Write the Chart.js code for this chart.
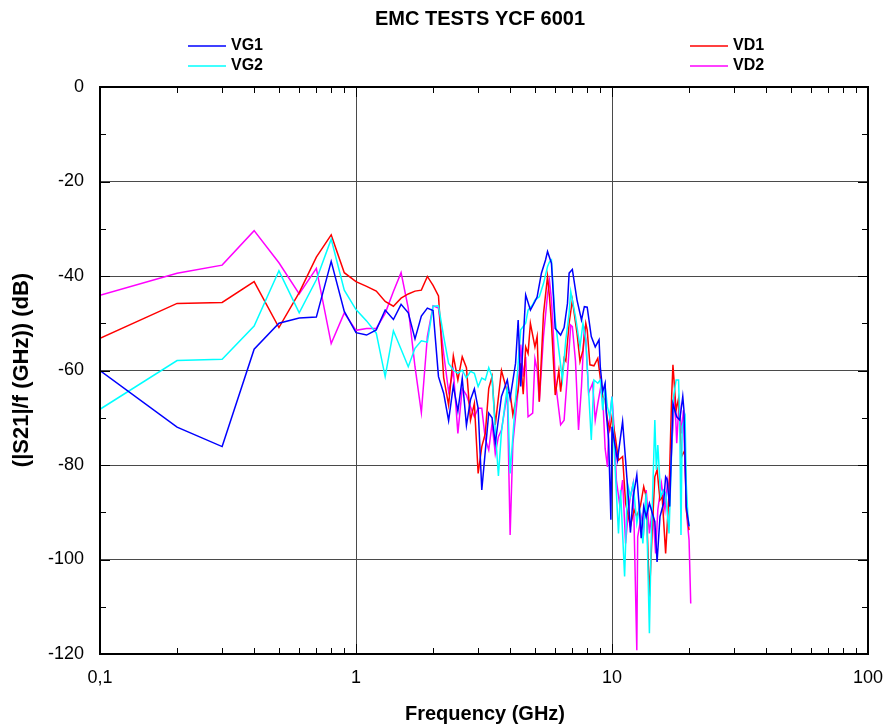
<!DOCTYPE html>
<html>
<head>
<meta charset="utf-8">
<title>EMC TESTS YCF 6001</title>
<script src="https://cdn.jsdelivr.net/npm/chart.js@4.4.1/dist/chart.umd.min.js"></script>
<style>
    body { margin: 0; background: #ffffff; }
    .chart_box { width: 888px; height: 727px; }
</style>
</head>
<body>
<div class="chart_box">
    <canvas id="emc_chart" width="888" height="727"></canvas>
</div>
<script>
//chart data
const chartTitle = 'EMC TESTS YCF 6001';
const seriesNames = ['VG1', 'VG2', 'VD1', 'VD2'];
const seriesColors = ['#0000ff', '#00ffff', '#ff0000', '#ff00ff'];

const freqVG1 = [0.1, 0.2, 0.3, 0.4, 0.5, 0.6, 0.7, 0.8, 0.9, 1.0, 1.1, 1.2, 1.3, 1.4, 1.5, 1.6, 1.7, 1.8, 1.9, 2.0,
    2.1, 2.2, 2.3, 2.4, 2.5, 2.6, 2.7, 2.8, 2.9, 3.0, 3.1, 3.2, 3.3, 3.4, 3.5, 3.7, 3.9, 4.0, 4.2, 4.3,
    4.4, 4.6, 4.8, 5.0, 5.1, 5.3, 5.5, 5.6, 5.8, 5.9, 6.0, 6.3, 6.5, 6.7, 6.8, 6.9, 7.0, 7.3, 7.6, 7.8,
    8.0, 8.3, 8.6, 8.9, 9.0, 9.2, 9.4, 9.5, 9.7, 9.9, 10.0, 10.5, 11.0, 11.3, 11.6, 11.8, 12.1, 12.5, 12.8, 13.0,
    13.3, 13.6, 14.0, 14.7, 15.0, 15.4, 15.9, 16.2, 16.4, 16.8, 17.3, 17.9, 18.4, 18.9, 19.1, 19.5, 20.0];
const dbVG1 = [-60, -72, -76.1, -55.5, -50, -48.9, -48.7, -36.9, -47.5, -52, -52.5, -51.4, -47.2, -49.2, -46, -47.8, -53.3, -48.5, -46.8, -47.3,
    -61.3, -64.8, -70.6, -63.2, -68.6, -61.7, -71.6, -66.2, -63.9, -68, -85.3, -77, -69, -70, -75.4, -65.5, -62, -65.9, -58.5, -49.3,
    -63.4, -44, -47.2, -45.4, -44.4, -39.4, -36.6, -34.8, -37.3, -44, -51.1, -52.5, -50.9, -45.8, -39.4, -39, -38.6, -45.1, -49.3, -46.5,
    -46.6, -52.8, -55, -53.5, -59.2, -64.5, -62.7, -69.1, -74.7, -91.6, -71.9, -79, -70.8, -79, -87.4, -94.3, -86.7, -82.1, -89.5, -95.5,
    -88.8, -91, -88.1, -92, -100.5, -90.9, -88.1, -82.5, -83, -88.8, -67, -69.8, -70.5, -65.5, -68.4, -88.8, -93];

const freqVG2 = [0.1, 0.2, 0.3, 0.4, 0.5, 0.6, 0.7, 0.8, 0.9, 1.0, 1.1, 1.2, 1.3, 1.4, 1.5, 1.6, 1.7, 1.8, 1.9, 2.0,
    2.1, 2.2, 2.3, 2.4, 2.5, 2.6, 2.7, 2.8, 2.9, 3.0, 3.1, 3.2, 3.3, 3.4, 3.5, 3.6, 3.7, 3.9, 4.0, 4.1,
    4.3, 4.4, 4.6, 4.7, 4.9, 5.0, 5.2, 5.4, 5.6, 5.7, 5.8, 5.9, 6.0, 6.2, 6.4, 6.6, 6.8, 6.9, 7.2, 7.5,
    7.7, 7.9, 8.3, 8.5, 8.8, 9.0, 9.2, 9.4, 9.6, 9.8, 10.0, 10.2, 10.6, 10.8, 11.2, 11.5, 11.8, 12.1, 12.5, 12.8,
    13.2, 13.6, 14.0, 14.2, 14.7, 14.9, 15.1, 15.5, 15.9, 16.2, 16.7, 17.1, 17.4, 17.8, 18.2, 18.4, 18.6, 18.8, 19.3, 19.5,
    19.8, 20.0];
const dbVG2 = [-68.2, -57.9, -57.6, -50.6, -38.9, -47.8, -40.8, -32.2, -43, -47.1, -49.5, -52.1, -61.3, -51.6, -55.5, -59.2, -55.3, -53.7, -54, -46.4,
    -46.3, -52.8, -58.5, -59.9, -60.6, -59.9, -61.6, -60.2, -60.6, -63.4, -61.6, -62, -59.4, -61.3, -72.6, -82.3, -73, -63.4, -81.8, -74,
    -58.5, -51.4, -50, -47.2, -46.1, -45.1, -44.4, -41.6, -38, -37, -36.6, -43, -49.3, -55.7, -62, -53.5, -47.9, -43.3, -48.6, -55,
    -50, -53.5, -74.7, -62, -62.7, -62, -68.4, -63.4, -67.7, -69.8, -65.5, -76.8, -94.5, -85.3, -103.6, -83.9, -86.7, -83.9, -92.3, -88.8,
    -96.6, -86, -115.6, -98, -70.5, -81, -75.8, -86.7, -85.3, -86, -94.5, -76.8, -65.5, -62, -62, -71.2, -94.8, -71.9, -69.8, -83.9,
    -90.9, -93];

const freqVD1 = [0.1, 0.2, 0.3, 0.4, 0.5, 0.6, 0.7, 0.8, 0.9, 1.0, 1.1, 1.2, 1.3, 1.4, 1.5, 1.6, 1.7, 1.8, 1.9, 2.0,
    2.1, 2.2, 2.3, 2.4, 2.5, 2.6, 2.7, 2.8, 2.9, 3.0, 3.1, 3.2, 3.3, 3.4, 3.5, 3.7, 3.9, 4.0, 4.1, 4.3,
    4.4, 4.5, 4.6, 4.7, 4.8, 5.0, 5.1, 5.2, 5.4, 5.6, 5.7, 5.8, 6.0, 6.2, 6.3, 6.5, 6.6, 6.8, 7.0, 7.3,
    7.5, 7.7, 7.9, 8.0, 8.2, 8.5, 8.8, 8.9, 9.2, 9.4, 9.6, 9.8, 10.0, 10.3, 10.6, 11.0, 11.3, 11.8, 12.2, 12.5,
    12.9, 13.3, 13.6, 14.0, 14.4, 14.7, 15.0, 15.4, 15.7, 16.2, 16.7, 17.1, 17.3, 17.8, 18.2, 18.7, 19.3, 19.5, 20.0];
const dbVD1 = [-53.2, -45.8, -45.6, -41.2, -50.9, -43.5, -36, -31.3, -39.3, -41.2, -42.2, -43.2, -45.4, -46.4, -44.7, -43.8, -43.2, -43, -40.1, -42,
    -44.2, -61.5, -67.3, -56.9, -62, -57.1, -59.4, -70.5, -67, -81.8, -76.1, -73.3, -63.8, -61.3, -71.5, -60, -64.6, -64.8, -69.4, -64.1,
    -58.5, -65, -55, -56.4, -50, -55, -52.8, -66.6, -48, -40.1, -44.5, -50, -65.2, -60, -64.5, -57.4, -58, -50, -45.1, -52.1,
    -58.1, -55.7, -50, -51.4, -58.8, -59, -57.4, -59.5, -65.5, -66.2, -70.5, -72.6, -69.8, -74, -79, -78.2, -88.1, -93, -89.5, -90.9,
    -88.8, -84.6, -86.7, -107.9, -92.3, -82.5, -81, -87.4, -86.7, -98.7, -86, -65.5, -58.8, -68.4, -65.9, -78.2, -76.8, -89.5, -93.8];

const freqVD2 = [0.1, 0.2, 0.3, 0.4, 0.5, 0.6, 0.7, 0.8, 0.9, 1.0, 1.1, 1.2, 1.3, 1.4, 1.5, 1.6, 1.7, 1.8, 1.9, 2.0,
    2.1, 2.2, 2.3, 2.4, 2.5, 2.6, 2.7, 2.8, 2.9, 3.0, 3.1, 3.2, 3.3, 3.4, 3.5, 3.6, 3.7, 3.9, 4.0, 4.1,
    4.3, 4.4, 4.5, 4.6, 4.7, 4.9, 5.0, 5.1, 5.2, 5.4, 5.6, 5.7, 5.8, 5.9, 6.0, 6.3, 6.5, 6.7, 6.9, 7.0,
    7.2, 7.4, 7.6, 7.8, 7.9, 8.1, 8.4, 8.6, 8.8, 9.0, 9.2, 9.4, 9.6, 9.7, 10.0, 10.2, 10.4, 10.7, 11.0, 11.3,
    11.6, 11.8, 12.1, 12.5, 12.6, 13.0, 13.3, 13.6, 14.0, 14.4, 14.8, 15.1, 15.6, 16.1, 16.5, 16.8, 17.2, 17.6, 17.9, 18.3,
    18.7, 19.0, 19.3, 19.6, 20.0, 20.3];
const dbVD2 = [-44.1, -39.4, -37.7, -30.4, -37.2, -43.8, -38.4, -54.3, -47.8, -51.5, -51.1, -51.1, -47.9, -43.3, -39.3, -46.8, -59.2, -68.9, -52.8, -46.3,
    -46.8, -56.4, -64.5, -60, -73.3, -63.8, -65.2, -67.7, -69.8, -68, -68, -74.5, -76.8, -71.2, -77.6, -74, -72.6, -64.8, -94.8, -75.4,
    -64.1, -54.5, -61.3, -57.1, -69.8, -69, -57.5, -59.8, -66.6, -52.8, -43.9, -41, -45, -52, -62, -71.5, -70.5, -60.6, -50.4, -50.7,
    -58, -72.6, -63.4, -50.7, -53.5, -64.8, -62.7, -70.5, -67, -64, -65.5, -76.5, -80.4, -72.6, -65.5, -72.6, -83.2, -88.1, -83.2, -96.6,
    -89.5, -86.7, -83.9, -119.2, -95.2, -90.9, -93.7, -85.3, -94.5, -88.8, -98.7, -89.5, -83.9, -89.5, -83.2, -85.3, -74, -65.5, -75.4, -66.2,
    -73.3, -68.4, -81, -90.9, -95.9, -109.3];

//axis ticks
const xMajorTicks = [0.1, 1, 10, 100];
const xMajorLabels = ['0,1', '1', '10', '100'];
const xMinorTicks = [0.2, 0.3, 0.4, 0.5, 0.6, 0.7, 0.8, 0.9, 2, 3, 4, 5, 6, 7, 8, 9, 20, 30, 40, 50, 60, 70, 80, 90];
const yTicks = [0, -20, -40, -60, -80, -100, -120];
const yMinorTicks = [-10, -30, -50, -70, -90, -110];
const xTitle = 'Frequency (GHz)';
const yTitle = '(|S21|/f (GHz)) (dB)';
//

const toPoints = (freqs, values) => freqs.map((f, i) => ({ x: f, y: values[i] }));

const seriesPoints = [
    toPoints(freqVG1, dbVG1),
    toPoints(freqVG2, dbVG2),
    toPoints(freqVD1, dbVD1),
    toPoints(freqVD2, dbVD2)
];

const gridColor = '#4a4a4a';
const fontFamily = '"Liberation Sans", Arial, sans-serif';

//frame, inward ticks, title, legend and axis titles
const decorPlugin = {
    id: 'decorPlugin',
    afterDraw(chart) {
        const ctx = chart.ctx;
        const { left, right, top, bottom } = chart.chartArea;
        const xScale = chart.scales.x;
        const yScale = chart.scales.y;

        ctx.save();
        ctx.strokeStyle = '#000000';
        ctx.lineWidth = 1;

        // x ticks on bottom and top edge
        const xTickMarks = xMajorTicks.map(v => [v, 10]).concat(xMinorTicks.map(v => [v, 6]));
        xTickMarks.forEach(([v, len]) => {
            const px = Math.round(xScale.getPixelForValue(v)) + 0.5;
            ctx.beginPath();
            ctx.moveTo(px, bottom);
            ctx.lineTo(px, bottom - len);
            ctx.moveTo(px, top);
            ctx.lineTo(px, top + len);
            ctx.stroke();
        });

        // y ticks on left and right edge
        const yTickMarks = yTicks.map(v => [v, 10]).concat(yMinorTicks.map(v => [v, 6]));
        yTickMarks.forEach(([v, len]) => {
            const py = Math.round(yScale.getPixelForValue(v)) + 0.5;
            ctx.beginPath();
            ctx.moveTo(left, py);
            ctx.lineTo(left + len, py);
            ctx.moveTo(right, py);
            ctx.lineTo(right - len, py);
            ctx.stroke();
        });

        ctx.lineWidth = 2;
        ctx.strokeRect(left, top, right - left, bottom - top);

        // title
        ctx.fillStyle = '#000000';
        ctx.textAlign = 'center';
        ctx.textBaseline = 'middle';
        ctx.font = 'bold 20px ' + fontFamily;
        ctx.fillText(chartTitle, 480, 19);

        // legend, two columns
        const legendSpots = [[188, 46], [188, 66], [690, 46], [690, 66]];
        ctx.font = 'bold 16px ' + fontFamily;
        ctx.textAlign = 'left';
        chart.data.datasets.forEach((dataset, i) => {
            const [lx, ly] = legendSpots[i];
            ctx.strokeStyle = dataset.borderColor;
            ctx.lineWidth = 1.5;
            ctx.beginPath();
            ctx.moveTo(lx, ly);
            ctx.lineTo(lx + 38, ly);
            ctx.stroke();
            ctx.fillText(dataset.label, lx + 43, ly);
        });

        // axis titles
        ctx.font = 'bold 20px ' + fontFamily;
        ctx.textAlign = 'center';
        ctx.fillText(xTitle, 485, 714);

        ctx.font = 'bold 22px ' + fontFamily;
        ctx.translate(22, 370);
        ctx.rotate(-Math.PI / 2);
        ctx.fillText(yTitle, 0, 0);

        ctx.restore();
    }
};
//

//emc chart
const emcChartFunc = () => {
    const emcChart = document.getElementById('emc_chart').getContext('2d');

    new Chart(emcChart, {
        type: 'line',
        data: {
            datasets: seriesNames.map((name, i) => ({
                label: name,
                data: seriesPoints[i],
                borderColor: seriesColors[i],
                backgroundColor: seriesColors[i],
                borderWidth: 1.5,
                pointRadius: 0,
                tension: 0,
                fill: false
            }))
        },
        options: {
            responsive: false,
            animation: false,
            events: [],
            layout: {
                padding: { top: 87, right: 20, bottom: 0, left: 0 }
            },
            plugins: {
                legend: { display: false },
                tooltip: { enabled: false },
                title: { display: false }
            },
            scales: {
                x: {
                    type: 'logarithmic',
                    min: 0.1,
                    max: 100,
                    afterBuildTicks: (scale) => {
                        scale.ticks = xMajorTicks.map(v => ({ value: v, major: true }));
                    },
                    afterFit: (scale) => {
                        scale.height = 73;
                        scale.paddingLeft = 0;
                        scale.paddingRight = 0;
                    },
                    ticks: {
                        autoSkip: false,
                        maxRotation: 0,
                        padding: 13,
                        color: '#000000',
                        font: { family: fontFamily, size: 18 },
                        callback: (value) => {
                            const idx = xMajorTicks.indexOf(value);
                            return idx === -1 ? '' : xMajorLabels[idx];
                        }
                    },
                    grid: {
                        drawTicks: false,
                        lineWidth: 1,
                        color: (c) => (c.tick && (c.tick.value === 1 || c.tick.value === 10)) ? gridColor : 'rgba(0,0,0,0)'
                    },
                    border: { display: false }
                },
                y: {
                    min: -120,
                    max: 0,
                    afterBuildTicks: (scale) => {
                        scale.ticks = yTicks.map(v => ({ value: v }));
                    },
                    afterFit: (scale) => {
                        scale.width = 100;
                        scale.paddingTop = 0;
                        scale.paddingBottom = 0;
                    },
                    ticks: {
                        padding: 16,
                        color: '#000000',
                        font: { family: fontFamily, size: 18 },
                        callback: (value) => String(value)
                    },
                    grid: {
                        drawTicks: false,
                        lineWidth: 1,
                        color: (c) => (c.tick && c.tick.value > -120 && c.tick.value < 0) ? gridColor : 'rgba(0,0,0,0)'
                    },
                    border: { display: false }
                }
            }
        },
        plugins: [decorPlugin]
    });
};

emcChartFunc();
//
</script>
</body>
</html>
